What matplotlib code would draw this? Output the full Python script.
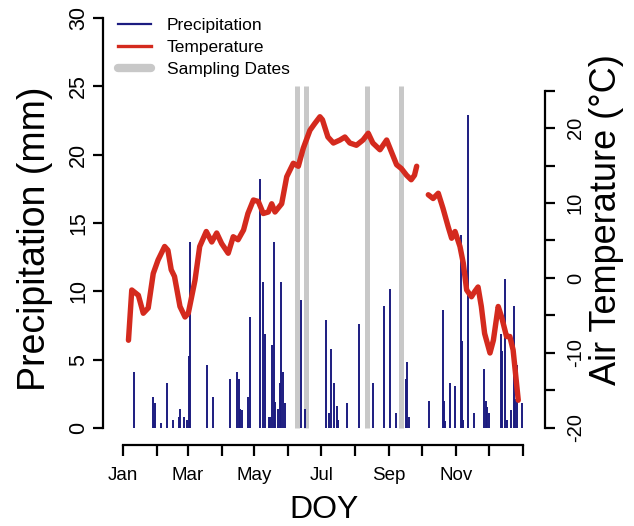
import numpy as np
import matplotlib.pyplot as plt
from matplotlib.lines import Line2D

plt.rcParams['font.family'] = ['Liberation Sans', 'DejaVu Sans']

# daily precipitation (DOY, mm)
precip_doy = [11, 28, 29, 30, 36, 41, 47, 52, 53, 57, 59, 61, 62,
              78, 83, 99, 105, 107, 108, 110, 115, 117, 126, 129, 131,
              134, 135, 137, 139, 140, 142, 144, 145, 147, 149, 163, 167,
              186, 189, 191, 194, 196, 197, 205, 216, 229, 239, 245, 250,
              259, 260, 262, 280, 293, 294, 295, 299, 304, 309, 310, 311,
              316, 321, 330, 332, 333, 335, 346, 347, 350, 351, 355, 358,
              359, 361, 365]
precip_mm = [4.1, 2.3, 0.6, 1.85, 0.4, 3.3, 0.6, 0.8, 1.4, 0.8, 0.6, 5.3, 13.6,
             4.6, 2.3, 3.6, 4.1, 3.6, 1.4, 1.3, 2.3, 8.1, 18.2, 10.7, 6.9,
             0.8, 0.8, 6.1, 13.6, 1.9, 1.4, 3.3, 10.7, 4.1, 1.85, 9.4, 1.4,
             7.9, 1.1, 5.8, 3.3, 1.6, 0.6, 1.85, 7.6, 3.3, 8.9, 10.2, 1.1,
             3.6, 4.8, 0.8, 2.0, 8.6, 2.0, 0.5, 3.3, 3.1, 14.1, 6.4, 0.6,
             22.9, 1.1, 4.3, 2.0, 1.5, 1.1, 6.9, 5.6, 10.9, 0.6, 1.3, 8.9,
             2.1, 4.6, 1.85]

# air temperature (DOY, degC); NaN marks the data gap
temp_doy = [6, 9, 15, 19.5, 24, 28.6, 33, 39, 42, 45, 48, 53, 57.6, 60.6,
            66.7, 71, 77, 82, 86.5, 91, 97, 101.6, 106, 111, 115, 120, 124.5,
            129, 133.6, 136.7, 139.7, 145.8, 150.4, 156.4, 161, 165.5, 171.6,
            176, 180.7, 183, 188, 193, 199, 203.5, 208, 214, 220, 224.8, 229,
            235.5, 241.6, 246, 250.7, 255, 259.8, 264, 267, 269, 274,
            279.6, 284, 288.7, 293, 297.8, 300.9, 304, 308.5, 311.5, 314.6,
            319, 322, 325, 328, 331, 335.9, 339, 343.4, 346.5, 351, 354, 357,
            361.7]
temp_c = [-8.3, -1.6, -2.3, -4.7, -4.0, 0.6, 2.4, 4.2, 3.7, 1.1, 0.2, -3.8, -5.2, -4.7,
          -0.3, 4.2, 6.2, 4.8, 6.0, 4.6, 3.3, 5.5, 5.1, 6.4, 8.6, 10.4, 10.2,
          8.6, 8.8, 9.9, 8.8, 9.9, 13.5, 15.3, 14.9, 17.3, 19.7,
          20.6, 21.5, 21.1, 18.8, 18.0, 18.4, 18.8, 18.0, 17.7, 18.4, 19.3, 18.0,
          17.1, 18.4, 16.8, 15.1, 14.6, 13.7, 13.1, 13.7, 14.9, np.nan,
          11.1, 10.6, 11.3, 9.3, 6.8, 5.3, 6.2, 4.2, 2.0, -1.6,
          -2.5, -1.8, -1.2, -3.8, -7.4, -10.0, -8.3, -3.8, -5.2, -7.8, -7.8, -9.6,
          -16.3]

sampling_doy = [160, 168, 224, 255]

month_doy = [1, 32, 60, 91, 121, 152, 182, 213, 244, 274, 305, 335, 366]
month_labels = ['Jan', '', 'Mar', '', 'May', '', 'Jul', '', 'Sep', '', 'Nov', '', '']

navy = '#1c1c80'
red = '#d42a1e'
gray = '#c8c8c8'

fig = plt.figure(figsize=(6.34, 5.26), dpi=100)
W, H = 634, 526
ax = fig.add_axes([103 / W, 1 - 445 / H, (545 - 103) / W, (445 - 18) / H])
ax.patch.set_alpha(0)

ax.vlines(sampling_doy, 0, 25, color=gray, linewidth=3.6, zorder=1)
ax.vlines(precip_doy, 0, precip_mm, color=navy, linewidth=1.4, zorder=2)

ax.set_xlim(-17.25, 386.1)
ax.set_ylim(-1.244, 30)
ax.set_xticks(month_doy)
ax.set_xticklabels(month_labels, fontsize=13.5)
ax.set_yticks(np.arange(0, 31, 5))
ax.tick_params(axis='x', length=8, width=1.6, pad=8)
ax.tick_params(axis='y', length=7, width=1.6, pad=3, labelsize=15.5, labelrotation=90)
for t in ax.get_yticklabels():
    t.set_va('center')
for s in ['top', 'right']:
    ax.spines[s].set_visible(False)
ax.spines['left'].set_bounds(0, 30)
ax.spines['bottom'].set_bounds(1, 366)
for s in ['left', 'bottom']:
    ax.spines[s].set_linewidth(1.6)

ax2 = ax.twinx()
ax2.plot(temp_doy, temp_c, color=red, linewidth=3.9, solid_capstyle='round',
         solid_joinstyle='round', zorder=3)
ax2.set_ylim(-22.27, 34.67)
ax2.set_yticks(np.arange(-20, 26, 5))
ax2.set_yticklabels([str(v) if v % 10 == 0 else '' for v in range(-20, 26, 5)])
ax2.tick_params(axis='y', length=7, width=1.6, pad=8, labelsize=14.5, labelrotation=90)
for t in ax2.get_yticklabels():
    t.set_va('center')
for s in ['top', 'left', 'bottom']:
    ax2.spines[s].set_visible(False)
ax2.spines['right'].set_bounds(-20, 25)
ax2.spines['right'].set_linewidth(1.6)

fig.text(35 / W, 1 - 239 / H, 'Precipitation (mm)', rotation=90, fontsize=27,
         ha='center', va='center')
fig.text(607 / W, 1 - 220 / H, 'Air Temperature (\u00b0C)', rotation=90, fontsize=26,
         ha='center', va='center')
fig.text(324 / W, 1 - 510 / H, 'DOY', fontsize=23, ha='center', va='center')

handles = [Line2D([], [], color=navy, linewidth=1.6),
           Line2D([], [], color=red, linewidth=2.4),
           Line2D([], [], color=gray, linewidth=6, solid_capstyle='round')]
fig.legend(handles, ['Precipitation', 'Temperature', 'Sampling Dates'],
           loc='upper left', bbox_to_anchor=(118 / W, 1 - 18 / H), frameon=False,
           fontsize=12.5, handlelength=1.9, handletextpad=0.9, labelspacing=0.38,
           borderpad=0, borderaxespad=0)

fig.savefig('out.png', dpi=100)
